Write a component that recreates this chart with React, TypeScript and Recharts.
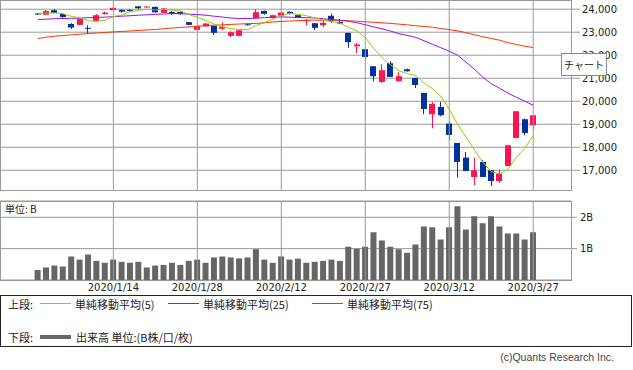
import React from 'react';
import { ComposedChart, Bar, Line, XAxis, YAxis, CartesianGrid, ReferenceLine } from 'recharts';

const dates = ['2019/12/25','2019/12/26','2019/12/27','2019/12/30','2020/1/6','2020/1/7','2020/1/8','2020/1/9','2020/1/10','2020/1/14','2020/1/15','2020/1/16','2020/1/17','2020/1/20','2020/1/21','2020/1/22','2020/1/23','2020/1/24','2020/1/27','2020/1/28','2020/1/29','2020/1/30','2020/1/31','2020/2/3','2020/2/4','2020/2/5','2020/2/6','2020/2/7','2020/2/10','2020/2/12','2020/2/13','2020/2/14','2020/2/17','2020/2/18','2020/2/19','2020/2/20','2020/2/21','2020/2/25','2020/2/26','2020/2/27','2020/2/28','2020/3/2','2020/3/3','2020/3/4','2020/3/5','2020/3/6','2020/3/9','2020/3/10','2020/3/11','2020/3/12','2020/3/13','2020/3/16','2020/3/17','2020/3/18','2020/3/19','2020/3/23','2020/3/24','2020/3/25','2020/3/26','2020/3/27'];

const opens = [23815,23760,23955,23790,23360,23320,23190,23480,23790,23960,23970,23970,24125,24090,24100,23840,23883,23883,23435,23100,23250,23275,23150,22840,22840,23345,23610,23925,23622,23715,23885,23740,23478,23390,23305,23713,23448,22970,22391,22261,21522,20839,21652,20870,21391,21013,20361,19435,19752,19030,18187,17552,16709,17361,17000,16535,17187,18404,19217,18957];
const highs = [23830,23960,24000,23800,23390,23580,23300,23785,23900,24090,23990,23995,24140,24130,24120,24060,23920,23900,23440,23300,23390,23290,23430,23045,23100,23380,24000,23940,23760,23870,23910,23760,23565,23400,23490,23813,23578,22975,22535,22270,21530,21609,21739,21261,21420,21020,20370,19970,19970,19130,18190,17796,17552,17435,17010,17043,18090,19570,19250,19400];
const lows = [23750,23750,23830,23630,23140,23300,22920,23470,23770,23950,23850,23900,24000,24070,23850,23830,23760,23760,23300,23090,23240,22880,23090,22795,22830,23300,23600,23760,23600,23700,23770,23620,23305,23100,23230,23404,23348,22317,22100,21826,20870,20796,21050,20860,21290,20578,19435,18826,19350,18304,16683,16960,16348,16700,16317,16448,17180,18400,18522,18783];
const closes = [23782,23925,23838,23657,23205,23576,23165,23740,23851,24060,23890,23933,24041,24118,23865,24031,23795,23800,23320,23270,23379,22975,23240,23000,23085,23330,23870,23800,23740,23857,23815,23640,23535,23190,23404,23496,23378,22565,22465,21926,21087,21348,21057,21087,21304,20709,19665,19883,19391,18535,17361,16970,17000,16709,16535,16857,18087,19565,18622,19391];
const ma5 = [23823,23835,23839,23807,23681,23640,23496,23476,23515,23679,23747,23893,23953,24000,23968,23991,23963,23920,23772,23643,23512,23349,23224,23150,23124,23112,23291,23416,23558,23714,23815,23778,23717,23619,23527,23457,23397,23213,23060,22769,22302,21893,21589,21324,21200,21121,20792,20549,20212,19658,18995,18455,17884,17346,16945,16836,17054,17561,17949,18516];
const ma25 = [23552,23565,23587,23596,23604,23609,23630,23643,23657,23674,23696,23717,23739,23757,23778,23791,23809,23800,23783,23765,23739,23696,23661,23617,23596,23596,23609,23635,23652,23665,23652,23639,23630,23617,23587,23548,23522,23470,23413,23326,23230,23148,23052,22935,22861,22774,22630,22478,22326,22174,22000,21696,21391,21043,20761,20565,20348,20174,20000,19826];
const ma75 = [22726,22783,22826,22857,22887,22913,22943,22965,22991,23013,23035,23052,23078,23100,23117,23152,23183,23209,23230,23261,23287,23304,23322,23339,23357,23370,23383,23409,23443,23470,23487,23504,23517,23522,23522,23522,23513,23500,23478,23452,23435,23409,23383,23352,23322,23283,23248,23217,23161,23113,23057,22978,22891,22804,22726,22652,22543,22465,22391,22335];
const volumes = [0.32,0.40,0.46,0.43,0.75,0.65,0.81,0.61,0.55,0.65,0.58,0.55,0.58,0.40,0.46,0.48,0.55,0.48,0.61,0.65,0.55,0.72,0.75,0.72,0.69,0.72,0.98,0.65,0.55,0.75,0.65,0.68,0.55,0.58,0.61,0.65,0.61,1.06,1.00,1.06,1.52,1.26,1.06,0.98,0.87,1.13,1.71,1.68,1.29,1.68,2.35,1.61,2.03,1.81,2.03,1.71,1.48,1.48,1.29,1.52];

const dateTicks = ['2020/1/14','2020/1/28','2020/2/12','2020/2/27','2020/3/12','2020/3/27'];
const priceTicks = [17000,18000,19000,20000,21000,22000,23000,24000];
const volumeTicks = [1, 2];

const RED = '#ff1450';
const BLUE = '#003399';
const C_MA5 = '#99cc00';
const C_MA25 = '#9911ee';
const C_MA75 = '#ff3300';
const GRID = '#999999';
const FONT = 'DejaVu Sans';
const JFONT = '"Noto Sans CJK JP", "Noto Sans", sans-serif';

const PAD = 4;
const padRow = (k: string) => ({ date: k });
const rows: any[] = [
  ...Array.from({ length: PAD }, (_, i) => padRow('padL' + i)),
  ...dates.map((d, i) => ({
    date: d, open: opens[i], high: highs[i], low: lows[i], close: closes[i],
    ma5: ma5[i], ma25: ma25[i], ma75: ma75[i], vol: volumes[i],
  })),
  ...Array.from({ length: PAD }, (_, i) => padRow('padR' + i)),
];

const Candle = (props: any) => {
  const { x, y, width, height, payload } = props;
  if (!payload || payload.high == null || x == null) return null;
  const { open, close, high, low } = payload;
  const top0 = Math.min(y, y + height);
  const h = Math.abs(height);
  const ppu = h / (high - low);
  const yOf = (v: number) => top0 + (high - v) * ppu;
  const up = close >= open;
  const color = up ? RED : BLUE;
  const cx = Math.floor(x + width / 2) + 0.5;
  const bTop = yOf(Math.max(open, close));
  const bBot = yOf(Math.min(open, close));
  const bx = Math.round(x);
  return (
    <g>
      <line x1={cx} x2={cx} y1={top0} y2={top0 + h} stroke={color} strokeWidth={1} />
      <rect x={bx} y={bTop} width={width} height={Math.max(1, bBot - bTop)} fill={color} />
    </g>
  );
};

const txt = (s: string, left: number, cy: number, extra: any = {}) => (
  <div style={{ position: 'absolute', left, top: cy - 8, height: 16, lineHeight: '16px', fontSize: 11, color: '#222', fontFamily: JFONT, whiteSpace: 'nowrap', ...extra }}>{s}</div>
);

export default function App() {
  return (
    <div style={{ position: 'absolute', left: 0, top: 0, width: 633, height: 370, background: '#fff', overflow: 'hidden', fontFamily: FONT }}>
      {/* price chart */}
      <div style={{ position: 'absolute', left: 0, top: 0 }}>
        <ComposedChart width={633} height={191} data={rows} margin={{ top: 0, right: 0, left: 0, bottom: 0 }}>
          <CartesianGrid vertical={false} stroke={GRID} />
          <XAxis dataKey="date" hide />
          <YAxis orientation="right" width={62} domain={[16100, 24400]} ticks={priceTicks} allowDataOverflow
            axisLine={false} tickLine={{ stroke: GRID }} tickSize={9} tickMargin={2}
            tick={{ fontSize: 10, fill: '#222', fontFamily: FONT }}
            tickFormatter={(v: number) => v.toLocaleString('en-US')} />
          {dateTicks.map((d) => <ReferenceLine key={d} x={d} stroke={GRID} />)}
          <Line dataKey="ma75" stroke={C_MA75} dot={false} strokeWidth={1} isAnimationActive={false} />
          <Line dataKey="ma25" stroke={C_MA25} dot={false} strokeWidth={1} isAnimationActive={false} />
          <Line dataKey="ma5" stroke={C_MA5} dot={false} strokeWidth={1} isAnimationActive={false} />
          <Bar dataKey={(d: any) => (d.high != null ? [d.low, d.high] : null)} barSize={6}
            shape={(p: any) => <Candle {...p} />} isAnimationActive={false} />
        </ComposedChart>
      </div>
      <div style={{ position: 'absolute', left: 0, top: 0, width: 572, height: 191, boxSizing: 'border-box', border: '1px solid ' + GRID, pointerEvents: 'none' }} />

      {/* volume chart */}
      <div style={{ position: 'absolute', left: 0, top: 200 }}>
        <ComposedChart width={633} height={100} data={rows} margin={{ top: 1, right: 0, left: 0, bottom: 0 }}>
          <CartesianGrid vertical={false} stroke={GRID} />
          <XAxis dataKey="date" ticks={dateTicks} interval={0} height={20} axisLine={false} tickLine={false}
            tickSize={2} tickMargin={2} tick={{ fontSize: 10, fill: '#222', fontFamily: FONT }} />
          <YAxis orientation="right" width={62} domain={[0, 2.52]} ticks={volumeTicks} allowDataOverflow
            axisLine={false} tickLine={{ stroke: GRID }} tickSize={6} tickMargin={3}
            tick={{ fontSize: 10, fill: '#222', fontFamily: FONT }}
            tickFormatter={(v: number) => v + 'B'} />
          {dateTicks.map((d) => <ReferenceLine key={d} x={d} stroke={GRID} />)}
          <Bar dataKey="vol" fill="#666666" barSize={6} isAnimationActive={false} />
        </ComposedChart>
      </div>
      <div style={{ position: 'absolute', left: 0, top: 201, width: 572, height: 80, boxSizing: 'border-box', border: '1px solid ' + GRID, pointerEvents: 'none' }} />
      <div style={{ position: 'absolute', left: 5, top: 203, fontSize: 10, lineHeight: '12px', color: '#222', fontFamily: JFONT }}>単位: B</div>

      {/* chart button */}
      <div style={{ position: 'absolute', left: 561, top: 53, width: 46, height: 23, boxSizing: 'border-box', border: '1px solid #888', background: '#fff', fontSize: 10, lineHeight: '21px', textAlign: 'center', color: '#222', fontFamily: JFONT }}>チャート</div>

      {/* legend */}
      <div style={{ position: 'absolute', left: 0, top: 295, width: 632, height: 52, boxSizing: 'border-box', border: '1px solid #222' }} />
      {txt('上段:', 8, 304)}
      <div style={{ position: 'absolute', left: 40, top: 303, width: 31, height: 1, background: C_MA5 }} />
      {txt('単純移動平均(5)', 75, 304)}
      <div style={{ position: 'absolute', left: 168, top: 303, width: 31, height: 1, background: C_MA25 }} />
      {txt('単純移動平均(25)', 203, 304)}
      <div style={{ position: 'absolute', left: 312, top: 303, width: 31, height: 1, background: C_MA75 }} />
      {txt('単純移動平均(75)', 347, 304)}
      {txt('下段:', 8, 337)}
      <div style={{ position: 'absolute', left: 40, top: 335, width: 31, height: 4, background: '#666' }} />
      {txt('出来高 単位:(B株/口/枚)', 76, 337)}

      <div style={{ position: 'absolute', left: 414, width: 200, top: 350, height: 14, lineHeight: '14px', textAlign: 'right', fontSize: 10.5, color: '#444', fontFamily: '"Liberation Sans", sans-serif' }}>(c)Quants Research Inc.</div>
    </div>
  );
}
